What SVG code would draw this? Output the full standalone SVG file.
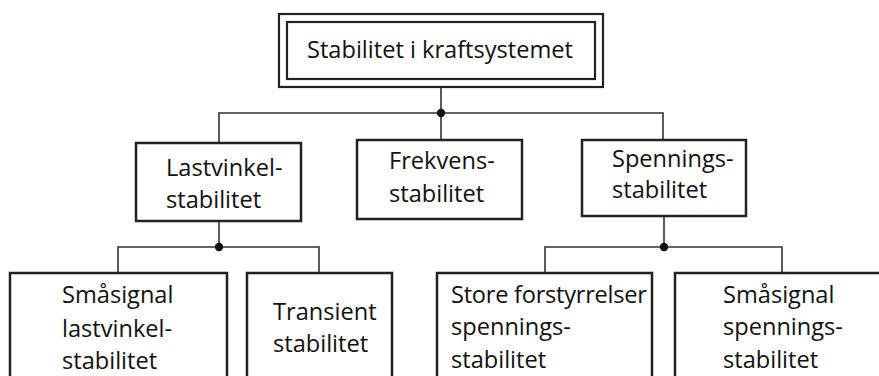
<svg xmlns="http://www.w3.org/2000/svg" width="879" height="376" viewBox="0 0 879 376">
<style>
.box{fill:#fff;stroke:#222;stroke-width:2.5}
.frame{fill:none;stroke:#222;stroke-width:2.2}
.lbl{font-family:"Open Sans","Noto Sans",sans-serif;font-size:23.6px;fill:#111}
.conn line,.conn polyline{stroke:#333;stroke-width:1.6;fill:none}
.conn circle{fill:#111}
</style>
<rect width="879" height="376" fill="#fff"/>
<g class="conn" id="connectors">
<line x1="441" y1="87" x2="441" y2="113"/>
<polyline points="219,143 219,113 663,113 663,140"/>
<line x1="441" y1="113" x2="441" y2="140"/>
<circle cx="441" cy="113" r="4.2"/>
<line x1="219" y1="221" x2="219" y2="247"/>
<polyline points="118,273 118,247 319,247 319,273"/>
<circle cx="219" cy="247" r="4.2"/>
<line x1="664" y1="216" x2="664" y2="247"/>
<polyline points="545,273 545,247 782,247 782,273"/>
<circle cx="664" cy="247" r="4.2"/>
</g>
<g id="root">
<rect class="frame" x="279" y="14" width="324" height="73"/>
<rect class="frame" x="287" y="22" width="308" height="57"/>
<text class="lbl" x="440" y="58" text-anchor="middle">Stabilitet i kraftsystemet</text>
</g>
<g id="lastvinkel">
<rect class="box" x="136" y="143" width="165" height="78"/>
<text class="lbl" x="166" y="176">Lastvinkel-</text>
<text class="lbl" x="166" y="208">stabilitet</text>
</g>
<g id="frekvens">
<rect class="box" x="357" y="140" width="165" height="79"/>
<text class="lbl" x="389" y="169">Frekvens-</text>
<text class="lbl" x="389" y="202">stabilitet</text>
</g>
<g id="spennings">
<rect class="box" x="582" y="140" width="164" height="76"/>
<text class="lbl" x="612" y="167">Spennings-</text>
<text class="lbl" x="612" y="198">stabilitet</text>
</g>
<g id="smasignal-lastvinkel">
<rect class="box" x="10" y="273" width="217" height="120"/>
<text class="lbl" x="62" y="303">Småsignal</text>
<text class="lbl" x="62" y="337">lastvinkel-</text>
<text class="lbl" x="62" y="369">stabilitet</text>
</g>
<g id="transient">
<rect class="box" x="247" y="273" width="145" height="120"/>
<text class="lbl" x="273" y="320">Transient</text>
<text class="lbl" x="273" y="352">stabilitet</text>
</g>
<g id="store-forstyrrelser">
<rect class="box" x="437" y="273" width="215" height="120"/>
<text class="lbl" x="451" y="303" letter-spacing="-0.25">Store forstyrrelser</text>
<text class="lbl" x="451" y="335">spennings-</text>
<text class="lbl" x="451" y="368">stabilitet</text>
</g>
<g id="smasignal-spennings">
<rect class="box" x="675" y="273" width="220" height="120"/>
<text class="lbl" x="723" y="303">Småsignal</text>
<text class="lbl" x="723" y="335">spennings-</text>
<text class="lbl" x="723" y="368">stabilitet</text>
</g>
</svg>
